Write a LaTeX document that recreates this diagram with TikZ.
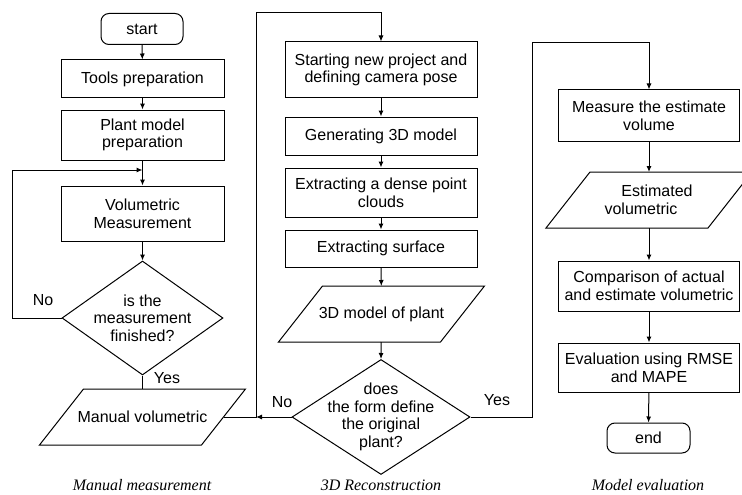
\documentclass[tikz,border=0pt]{standalone}
\usepackage{fontspec}
\setmainfont{Liberation Sans}
\newfontfamily\captionserif{Liberation Serif}
\usetikzlibrary{arrows.meta,positioning,shapes.geometric}

\newcommand{\ioframe}[1]{%
	\draw ([xshift=22pt]#1.north west) -- ([xshift=22pt]#1.north east)
		-- ([xshift=-22pt]#1.south east) -- ([xshift=-22pt]#1.south west) -- cycle;}

\begin{document}
\begin{tikzpicture}[
		x=1pt, y=-1pt,
		line width=1pt,
		font=\fontsize{16}{17.7}\selectfont,
		arrow/.style={-{Latex[length=6pt,width=5pt]}},
		block/.style={draw, minimum width=163pt, align=center, inner sep=2pt},
		term/.style={draw, rounded corners=8pt, minimum width=82pt, minimum height=31pt},
		decision/.style={draw, diamond, inner sep=0pt},
		iobox/.style={minimum width=161pt, minimum height=55pt, align=center, inner sep=0pt},
		caption/.style={font=\fontsize{16}{18}\selectfont\captionserif\itshape},
	]
		\useasboundingbox (0,0) rectangle (742,495);

		\node (start) at (142,29) [term] {start};
		\node (tools) at (142.5,79) [block, minimum height=38pt] {Tools preparation};
		\node (plant) at (142.5,135) [block, minimum height=50pt] {Plant model\\preparation};
		\node (volm) at (142.5,213.5) [block, minimum height=55pt] {Volumetric\\Measurement};
		\node (q1) at (142.5,318) [decision, minimum width=161pt, minimum height=114pt] {};
		\node (q1t) at (q1) [align=center] {is the\\measurement\\finished?};
		\node (man) at (142.5,417) [iobox] {Manual volumetric};
		\ioframe{man}

		\node (s1) at (381,70) [block, minimum width=192pt, minimum height=56pt] {Starting new project and\\defining camera pose};
		\node (s2) at (381,136) [block, minimum width=192pt, minimum height=38pt] {Generating 3D model};
		\node (s3) at (381,192.5) [block, minimum width=192pt, minimum height=49pt] {Extracting a dense point\\clouds};
		\node (s4) at (381,248.5) [block, minimum width=192pt, minimum height=37pt] {Extracting surface};
		\node (mod) at (381.5,314) [iobox] {3D model of plant};
		\ioframe{mod}
		\node (q2) at (381,417) [decision, minimum width=178pt, minimum height=115pt] {};
		\node (q2t) at (q2) [align=center] {does\\the form define\\the original\\plant?};

		\node (m1) at (649,115.5) [block, minimum width=181pt, minimum height=51pt] {Measure the estimate\\volume};
		\node (est) at (649,200) [iobox] {\hspace*{16pt}Estimated\\volumetric\hspace*{16pt}};
		\ioframe{est}
		\node (cmp) at (649,286) [block, minimum width=181pt, minimum height=50pt] {Comparison of actual\\and estimate volumetric};
		\node (ev) at (649,367.5) [block, minimum width=181pt, minimum height=49pt] {Evaluation using RMSE\\and MAPE};
		\node (end) at (648.5,438) [term, minimum width=83pt, minimum height=30pt] {end};

		\coordinate (j1) at (142.5,170);
		\coordinate (back1) at (12,170);
		\coordinate (up1) at (256,13);
		\coordinate (mid1) at (256,417);
		\coordinate (up2) at (532,43);

		\draw[arrow] (start) -- (tools);
		\draw[arrow] (tools) -- (plant);
		\draw[arrow] (plant) -- (volm);
		\draw[arrow] (volm) -- (q1.north);
		\draw[arrow] (q1.west) -| (back1) -- (j1);
		\draw (q1.south) -- (man.north);
		\node (no1) at (43,300) {No};
		\node (yes1) at (167,378) {Yes};

		\draw[arrow] (man.east) -| (up1) -| (s1.north);
		\draw[arrow] (s1) -- (s2);
		\draw[arrow] (s2) -- (s3);
		\draw[arrow] (s3) -- (s4);
		\draw[arrow] (s4) -- (mod);
		\draw[arrow] (mod) -- (q2.north);
		\draw[arrow] (q2.west) -- (mid1);
		\draw[arrow] (q2.east) -| (up2) -| (m1.north);
		\node (no2) at (282,402) {No};
		\node (yes2) at (497,400) {Yes};

		\draw[arrow] (m1) -- (est);
		\draw[arrow] (est) -- (cmp);
		\draw[arrow] (cmp) -- (ev);
		\draw[arrow] (ev) -- (end);

		\node (cap1) at (142,485) [caption] {Manual measurement};
		\node (cap2) at (381,485) [caption] {3D Reconstruction};
		\node (cap3) at (648,485) [caption] {Model evaluation};
	\end{tikzpicture}
\end{document}
